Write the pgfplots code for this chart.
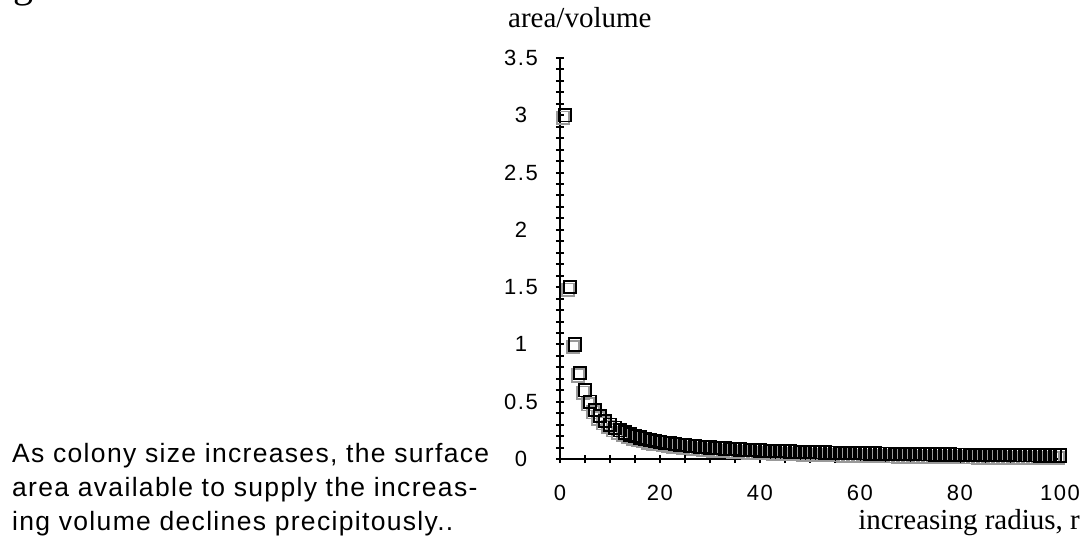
\documentclass[border=0pt]{standalone}
\usepackage{pgfplots}
\pgfplotsset{compat=1.18}
\usepackage{pgfplotstable}
\usepackage{fontspec}
\setmainfont{Liberation Serif}
\newfontfamily\helv[LetterSpace=5]{Liberation Sans}
\newfontfamily\helvtick[LetterSpace=7]{Liberation Sans}

% area/volume for radius r = 1..100
\pgfplotstableread{
r    av
1    3
2    1.5
3    1
4    0.75
5    0.6
6    0.5
7    0.4286
8    0.375
9    0.3333
10   0.3
11   0.2727
12   0.25
13   0.2308
14   0.2143
15   0.2
16   0.1875
17   0.1765
18   0.1667
19   0.1579
20   0.15
21   0.1429
22   0.1364
23   0.1304
24   0.125
25   0.12
26   0.1154
27   0.1111
28   0.1071
29   0.1034
30   0.1
31   0.0968
32   0.0938
33   0.0909
34   0.0882
35   0.0857
36   0.0833
37   0.0811
38   0.0789
39   0.0769
40   0.075
41   0.0732
42   0.0714
43   0.0698
44   0.0682
45   0.0667
46   0.0652
47   0.0638
48   0.0625
49   0.0612
50   0.06
51   0.0588
52   0.0577
53   0.0566
54   0.0556
55   0.0545
56   0.0536
57   0.0526
58   0.0517
59   0.0508
60   0.05
61   0.0492
62   0.0484
63   0.0476
64   0.0469
65   0.0462
66   0.0455
67   0.0448
68   0.0441
69   0.0435
70   0.0429
71   0.0423
72   0.0417
73   0.0411
74   0.0405
75   0.04
76   0.0395
77   0.039
78   0.0385
79   0.038
80   0.0375
81   0.037
82   0.0366
83   0.0361
84   0.0357
85   0.0353
86   0.0349
87   0.0345
88   0.0341
89   0.0337
90   0.0333
91   0.033
92   0.0326
93   0.0323
94   0.0319
95   0.0316
96   0.0313
97   0.0309
98   0.0306
99   0.0303
100  0.03
}\ratio

\begin{document}
\begin{tikzpicture}
\useasboundingbox (-560pt,-82pt) rectangle (528pt,459pt);
\begin{axis}[
  at={(0,0)}, anchor=origin,
  scale only axis,
  width=500pt, height=401pt,
  xmin=0, xmax=100, ymin=0, ymax=3.5,
  enlargelimits=false, clip=false,
  axis lines=left,
  axis line style={-, line width=2pt},
  xtick={0,20,...,100}, minor x tick num=3,
  ytick={0,0.5,...,3.5}, minor y tick num=4,
  tick align=center,
  major tick length=8pt, minor tick length=8pt,
  every tick/.style={black, line width=2pt},
  /pgf/number format/assume math mode=true,
  ticklabel style={font=\helvtick\fontsize{22}{26}\selectfont},
  xticklabel style={inner sep=0pt, anchor=north, yshift=-22pt},
  yticklabel style={inner sep=0pt, anchor=center, xshift=-35pt},
  xlabel={increasing radius, r},
  ylabel={area/volume},
  every axis x label/.style={at={(axis description cs:1,0)}, anchor=base east,
    xshift=20pt, yshift=-70pt, inner sep=0pt, font=\fontsize{29}{34}\selectfont},
  every axis y label/.style={at={(axis description cs:0,1)}, anchor=base west,
    xshift=-52pt, yshift=30pt, inner sep=0pt, font=\fontsize{29}{34}\selectfont},
]
\addplot[only marks, mark=square, mark size=6.2pt,
  mark options={draw=black!40, line width=1.8pt, xshift=-2pt, yshift=-2.5pt}]
  table[x=r, y=av] {\ratio};
\addplot[only marks, mark=square, mark size=6.2pt,
  mark options={draw=black, line width=1.8pt}]
  table[x=r, y=av] {\ratio};
\end{axis}
\node[anchor=base west, inner sep=0pt, font=\fontsize{40}{48}\selectfont] at (-547pt,461pt) {g};
\node[anchor=north west, inner sep=0pt, align=left,
  font=\helv\fontsize{26.5}{34}\selectfont] at (-548pt,15.5pt)
  {As colony size increases, the surface\\area available to supply the increas-\\ing volume declines precipitously..};
\end{tikzpicture}
\end{document}
